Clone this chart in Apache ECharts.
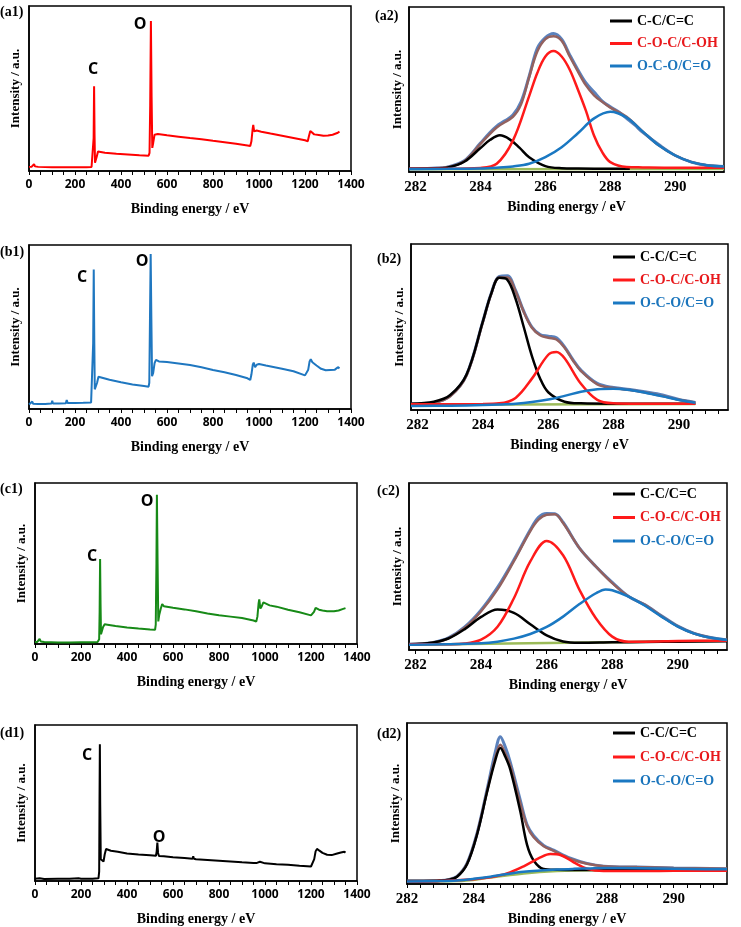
<!DOCTYPE html>
<html>
<head>
<meta charset="utf-8">
<script src="https://cdn.jsdelivr.net/npm/echarts@6/dist/echarts.min.js"></script>
<style>
html, body { margin: 0; padding: 0; background: #fff; }
#chart { width: 741px; height: 927px; }
</style>
</head>
<body>
<div id="chart"></div>
<script>
// survey spectra: [binding energy, intensity in % of plot height]
var a1Survey = [[0,2.5],[12,2.6],[18,3.8],[22,4.2],[26,2.8],[40,2.5],[100,2.3],[150,2.2],[200,2.2],[250,2.3],[272,2.4],[278,3.5],[281,20],[283,51.3],[285,22],[287,5],[291,4.5],[295,9],[300,11.8],[308,11.5],[330,11],[380,10.4],[430,10],[480,9.5],[520,9.2],[524,11],[527,40],[530,90.9],[533,45],[536,14],[540,17],[546,22],[552,23],[560,22.4],[600,21.6],[650,20.8],[700,20],[750,19.3],[800,18.3],[850,17.4],[900,16.5],[950,15.5],[962,15.2],[967,18],[972,25],[975,28],[979,24],[984,23.2],[990,24.5],[996,25],[1010,23.8],[1050,22.7],[1100,21.4],[1150,20],[1200,18.6],[1212,18],[1217,21],[1223,24.2],[1230,23],[1240,22.2],[1260,21.8],[1280,21.4],[1300,21.5],[1320,22],[1340,23],[1350,23.8]];
var b1Survey = [[0,2.8],[8,3],[14,4.5],[18,3.2],[40,3],[70,3.1],[98,3.3],[101,5],[104,3.4],[130,3.3],[160,3.5],[164,5.5],[168,3.6],[200,3.6],[236,3.8],[240,5],[244,3.9],[270,4],[276,5],[279,40],[281.5,85],[284,40],[286,12],[290,11],[296,16],[302,19.7],[310,19.5],[350,17.8],[400,16.3],[450,15],[500,14],[520,13.6],[523,16],[526,55],[529,94.5],[532,55],[535,20],[540,22],[546,28],[552,30],[565,29],[600,28.6],[650,27.8],[700,26.8],[750,25.4],[800,23.8],[850,22.4],[900,20.7],[950,18.7],[962,17.7],[967,21],[973,27],[977,28.3],[983,25.5],[990,27],[1000,27.4],[1030,26.5],[1100,24.6],[1150,23],[1200,20.5],[1208,19.7],[1214,24],[1220,29],[1225,30.3],[1232,28.5],[1250,26.5],[1270,24.5],[1290,23.6],[1310,23.8],[1330,24],[1343,25.5],[1350,24.8]];
var c1Survey = [[0,1.2],[10,1.3],[16,2.2],[20,3.2],[25,1.6],[40,1.2],[100,1],[150,1],[200,1.1],[250,1.1],[272,1.3],[279,3],[281,20],[283,52.8],[285,25],[287,6],[291,7],[296,10.5],[303,12.2],[315,12],[350,11.2],[400,10.3],[450,9.6],[500,9],[522,8.8],[525,12],[528,50],[530,92.7],[533,50],[536,14],[540,18],[547,22],[553,24.8],[560,23.5],[580,23],[600,22.5],[650,21.5],[700,20.3],[750,19],[800,17.8],[850,17],[900,16.1],[950,14.6],[962,14],[967,17],[972,25],[975,27.7],[980,22],[986,23.5],[993,25.8],[1000,25.5],[1020,24],[1050,23.2],[1100,21.3],[1150,19.7],[1200,17.8],[1206,17.6],[1213,20],[1220,22.5],[1226,22.6],[1235,21.3],[1250,20.8],[1270,20.4],[1300,20.3],[1320,20.8],[1340,21.8],[1350,22.3]];
var d1Survey = [[0,1.4],[20,1.8],[40,1.3],[100,1.5],[150,1.4],[190,1.7],[200,1.5],[250,1.5],[276,1.7],[279,6],[280.5,50],[282,87.6],[283.5,50],[286,14],[290,14],[294,13],[298,12.5],[303,17],[309,20.5],[316,20],[330,19.4],[360,18.7],[400,17.6],[450,17],[500,16.5],[526,16.2],[529,19],[532,24.7],[535,18],[539,16],[560,15.8],[600,15.2],[650,14.7],[685,14.3],[688,15.8],[691,14.3],[700,14],[750,13.5],[800,13],[850,12.5],[900,12],[950,11.6],[965,11.6],[970,12.6],[978,12.3],[985,11.6],[1000,11.3],[1050,10.8],[1100,10.4],[1150,9.8],[1200,9.3],[1208,9.8],[1214,14],[1220,19],[1226,20.6],[1235,19.6],[1250,18],[1270,16.8],[1290,16.6],[1310,17.5],[1330,18.3],[1345,18.8],[1350,18.2]];

// C1s high resolution: [binding energy, intensity in % of plot height]
var a2Base = [[281.8,1.6],[291.5,1.8]];
var a2Raw = [[281.8,2],[282.5,2.3],[283,3.1],[283.5,6.8],[284,17.5],[284.25,23],[284.5,27.8],[284.75,31],[285,34.5],[285.25,42.5],[285.5,58],[285.75,75],[286,81.5],[286.25,84],[286.5,80.5],[286.75,71],[287,62],[287.25,54],[287.5,48.5],[287.75,43],[288,39.5],[288.25,36.5],[288.5,32.5],[288.75,28.5],[289,24],[289.5,16.5],[290,10],[290.5,6],[291,4],[291.5,3.4]];
var a2Fit = [[281.8,2],[282.5,2.2],[283,3],[283.5,6.5],[284,17],[284.5,27],[285,33.5],[285.25,41],[285.5,57.5],[285.75,73],[286,80.5],[286.25,82.2],[286.5,79.5],[286.75,70],[287,61],[287.25,52.5],[287.5,46.5],[287.75,42.5],[288,39],[288.5,33.5],[289,24.5],[289.5,16],[290,10],[290.5,6],[291,4],[291.5,3.4]];
var a2CC = [[281.8,2],[282.5,2.1],[283,2.8],[283.5,6.2],[284,14.5],[284.3,19.5],[284.6,22.2],[284.9,19.8],[285.2,14.8],[285.5,9],[286,3.6],[286.5,2.3],[287,2.1],[288,2],[288.6,2]];
var a2COC = [[281.8,2],[283,2],[284,2.5],[284.5,5],[285,19],[285.5,46],[285.75,60],[286,70],[286.25,73.3],[286.5,70],[286.75,62],[287,50],[287.25,37],[287.5,22],[287.75,12],[288,6],[288.5,3],[289,2.8],[290,2.6],[291.5,2.6]];
var a2OCO = [[281.8,1.8],[283,1.9],[284,2.1],[284.5,2.6],[285,3.4],[285.5,5],[286,9],[286.5,15],[287,23.5],[287.5,32.5],[288,36.5],[288.5,33],[289,24.5],[289.5,16],[290,10],[290.5,6],[291,4],[291.5,3.4]];

var b2Base = [[282,3.2],[290.5,3.6]];
var b2Raw = [[281.8,3.6],[282.5,4.5],[283,8.5],[283.5,21.2],[284,53.5],[284.25,70],[284.5,80.5],[284.75,80.8],[285,72],[285.25,59.5],[285.5,50],[285.75,45.5],[286,44.5],[286.25,43.5],[286.5,38],[286.75,30.5],[287,24],[287.5,16],[288,13.5],[288.5,12.3],[289,10.8],[289.5,9],[290,6.3],[290.5,4.6]];
var b2Fit = [[281.8,3.6],[282.5,4.4],[283,8.3],[283.5,20.8],[284,53],[284.25,69.5],[284.5,79.8],[284.75,79.8],[285,71.5],[285.25,59],[285.5,49.5],[285.75,45],[286,43.5],[286.25,42.5],[286.5,37.5],[286.75,30],[287,23.5],[287.5,15.5],[288,13.2],[288.5,12],[289,10.4],[289.5,8.4],[290,6.2],[290.5,4.5]];
var b2CC = [[281.8,3.8],[282.5,5],[283,9],[283.5,21.4],[284,53.4],[284.25,69.8],[284.5,79.6],[284.75,78.4],[285,67],[285.25,50],[285.5,32.5],[285.75,19],[286,10.7],[286.5,5],[287,4],[288,3.8],[290.5,3.8]];
var b2COC = [[281.8,3.5],[284,3.6],[284.5,4],[285,7.3],[285.5,18.9],[286,33.3],[286.25,35],[286.5,31.2],[287,15.8],[287.5,6.1],[288,4],[288.5,3.8],[290.5,3.8]];
var b2OCO = [[281.8,2.4],[283,2.6],[284,3],[284.5,3.3],[285,3.8],[285.5,4.8],[286,6.3],[286.5,8.5],[287,11],[287.5,12.5],[288,12.8],[288.5,12],[289,10.3],[289.5,8.2],[290,6],[290.5,4.4]];

var c2Base = [[281.8,3.2],[291.5,5.5]];
var c2Raw = [[281.8,3.4],[282.5,4.4],[283,7.2],[283.5,13.8],[284,24],[284.5,37.5],[285,54],[285.5,72],[285.75,79.5],[286,81.8],[286.25,81.6],[286.5,76.5],[287,61],[287.5,50],[288,40.5],[288.5,32],[289,27],[289.5,20.5],[290,14.3],[290.5,10],[291,7.5],[291.5,6]];
var c2Fit = [[281.8,3.4],[282.5,4.3],[283,7],[283.5,13.3],[284,23.2],[284.5,36.3],[285,53.2],[285.5,71.2],[285.75,78],[286,81],[286.25,81.3],[286.5,76],[287,61],[287.5,50],[288,40],[288.5,32],[289,27],[289.5,20.3],[290,14.2],[290.5,9.9],[291,7.4],[291.5,6]];
var c2CC = [[281.8,3.5],[282.5,4.4],[283,6.9],[283.5,12.5],[284,19.8],[284.5,24.2],[285,22.2],[285.5,15.4],[286,8.8],[286.5,5.1],[287,4.3],[288,4.6],[289,4.8],[290,5],[291.5,5.2]];
var c2COC = [[281.8,3.4],[283,3.5],[283.5,3.9],[284,6.2],[284.5,13.9],[285,31],[285.5,53],[286,65.3],[286.5,56.7],[287,36],[287.5,19],[288,8],[288.5,5],[289,5],[290,5.4],[291.5,5.6]];
var c2OCO = [[281.8,3.2],[283,3.4],[284,4],[284.5,5],[285,6.8],[285.5,9.6],[286,13.8],[286.5,20],[287,27.5],[287.5,34],[287.8,36.3],[288,35.8],[288.5,32],[289,26.5],[289.5,20],[290,14],[290.5,9.8],[291,7.3],[291.5,6]];

var d2Base = [[282,1.6],[283.5,1.8],[284.5,4],[285.5,6.5],[286.5,8],[287.5,8.6],[291.6,9]];
var d2Raw = [[282,1.8],[282.5,1.8],[283,2.1],[283.25,2.7],[283.5,4.7],[283.8,12.8],[284.1,31.5],[284.4,58.5],[284.65,82],[284.8,91.5],[284.95,85],[285.1,75.5],[285.4,52],[285.6,37],[285.8,30],[286.1,24],[286.4,21],[286.9,16],[287.4,12.8],[287.9,11.1],[288.9,10.5],[290,10],[291.6,9.5]];
var d2Fit = [[282,1.8],[282.5,1.8],[283,2.1],[283.25,2.7],[283.5,4.6],[283.8,12.5],[284.1,31],[284.4,57.5],[284.65,78.5],[284.8,86.5],[284.95,81],[285.1,73.5],[285.4,50],[285.6,36],[285.8,29],[286.1,23.5],[286.4,20.6],[286.9,15.6],[287.4,12.6],[287.9,11.1],[288.9,10.5],[290,10],[291.6,9.5]];
var d2CC = [[282,1.8],[282.5,1.8],[283,2],[283.25,2.6],[283.5,4.5],[283.8,12.3],[284.1,30.6],[284.4,57],[284.65,77],[284.8,84.5],[284.95,79],[285.1,71],[285.4,45],[285.6,24.5],[285.8,14.6],[286.1,9.3],[286.5,8.8],[287,8.7],[288,8.8],[291.6,8.9]];
var d2COC = [[282,1.6],[283,1.9],[284,3],[284.5,4.2],[285,6.5],[285.5,11],[286,16.5],[286.3,18.6],[286.6,18],[287,13.5],[287.4,9.5],[287.9,8.1],[289,8],[290,8.2],[291.6,8.3]];
var d2OCO = [[282,1.5],[283,1.8],[283.5,2.2],[284,3.2],[284.5,4.5],[285,6.2],[285.5,7.6],[286,8.4],[286.5,9],[287,9.4],[287.5,9.7],[288,9.9],[289,9.8],[290,9.5],[291,9.2],[291.6,9.1]];

// tick labels
var hrLabelValues = [282, 284, 286, 288, 290];
var hrTickValues = [282,282.4,282.8,283.2,283.6,284,284.4,284.8,285.2,285.6,286,286.4,286.8,287.2,287.6,288,288.4,288.8,289.2,289.6,290,290.4,290.8,291.2];
var componentNames = ['C-C/C=C', 'C-O-C/C-OH', 'O-C-O/C=O'];

var serif = '"Liberation Serif","Times New Roman",serif';
var sans = '"Open Sans","Liberation Sans",sans-serif';

var compColors = ['#000000', '#ff1a1a', '#1a78c2'];
var legendText = ['#000000', '#e8191c', '#1b75bc'];

// layout
var grids = [
	{left: 29, top: 6, width: 322, height: 165},
	{left: 409, top: 7, width: 315, height: 165},
	{left: 29, top: 245, width: 322, height: 164},
	{left: 411, top: 244, width: 317, height: 166},
	{left: 35, top: 483, width: 322, height: 161},
	{left: 409, top: 483, width: 318, height: 167},
	{left: 35, top: 725, width: 322, height: 162},
	{left: 407, top: 723, width: 320, height: 164}
];

var xAxes = [], yAxes = [], series = [], legends = [];

function plainNumber(v) {
	return String(v);
}

function addSurvey(idx, data, color) {
	xAxes.push({
		gridIndex: idx, type: 'value', min: 0, max: 1400, interval: 200,
		axisLine: {show: true, onZero: false, lineStyle: {color: '#000', width: 1.5}},
		axisTick: {show: true, length: 4, lineStyle: {color: '#000', width: 1}},
		minorTick: {show: true, splitNumber: 4, length: 4, lineStyle: {color: '#000', width: 1}},
		splitLine: {show: false},
		axisLabel: {color: '#000', fontFamily: sans, fontWeight: 'bold', fontSize: 12, margin: 8, formatter: plainNumber},
		name: 'Binding energy / eV', nameLocation: 'middle', nameGap: 31,
		nameTextStyle: {color: '#000', fontFamily: serif, fontWeight: 'bold', fontSize: 14}
	});
	addYAxis(idx, 7);
	series.push({
		type: 'line', xAxisIndex: idx, yAxisIndex: idx, data: data,
		showSymbol: false, lineStyle: {color: color, width: 2}, itemStyle: {color: color}
	});
}

function addYAxis(idx, gap) {
	yAxes.push({
		gridIndex: idx, type: 'value', min: 0, max: 100,
		axisLine: {show: true, onZero: false, lineStyle: {color: '#000', width: 1.5}},
		axisTick: {show: false}, axisLabel: {show: false}, splitLine: {show: false},
		name: 'Intensity / a.u.', nameLocation: 'middle', nameGap: gap,
		nameTextStyle: {color: '#000', fontFamily: serif, fontWeight: 'bold', fontSize: 13}
	});
}

function addHR(idx, min, max, base, raw, fit, cc, coc, oco, legendPos) {
	xAxes.push({
		gridIndex: idx, type: 'value', min: min, max: max,
		axisLine: {show: true, onZero: false, lineStyle: {color: '#000', width: 1.5}},
		axisTick: {show: true, length: 4, customValues: hrTickValues, lineStyle: {color: '#000', width: 1}},
		splitLine: {show: false},
		axisLabel: {color: '#000', fontFamily: serif, fontWeight: 'bold', fontSize: 15, margin: 8, customValues: hrLabelValues},
		name: 'Binding energy / eV', nameLocation: 'middle', nameGap: 28,
		nameTextStyle: {color: '#000', fontFamily: serif, fontWeight: 'bold', fontSize: 14}
	});
	addYAxis(idx, 5);
	var common = {type: 'line', xAxisIndex: idx, yAxisIndex: idx, showSymbol: false, smooth: 0.35};
	series.push(Object.assign({name: 'baseline', data: base, lineStyle: {color: '#9bbb59', width: 2.5}}, common));
	series.push(Object.assign({name: 'raw', data: raw, lineStyle: {color: '#5b82bd', width: 3}}, common));
	series.push(Object.assign({name: 'fit', data: fit, lineStyle: {color: '#93615f', width: 2.5}}, common));
	[cc, coc, oco].forEach(function(d, k) {
		series.push(Object.assign({
			name: componentNames[k], data: d,
			lineStyle: {color: compColors[k], width: 2.5}, itemStyle: {color: compColors[k]}
		}, common));
	});
	legends.push({
		left: legendPos[0], top: legendPos[1], orient: 'vertical', padding: 0,
		itemWidth: 22, itemHeight: 3, itemGap: legendPos[2], icon: 'rect', selectedMode: false,
		textStyle: {fontFamily: serif, fontWeight: 'bold', fontSize: 14, lineHeight: 16},
		data: componentNames.map(function(n, k) {
			return {name: n, textStyle: {color: legendText[k]}};
		})
	});
}

addSurvey(0, a1Survey, '#ff0000');
addHR(1, 281.8, 291.5, a2Base, a2Raw, a2Fit, a2CC, a2COC, a2OCO, [610, 13, 6.5]);
addSurvey(2, b1Survey, '#1f77c0');
addHR(3, 281.8, 291.5, b2Base, b2Raw, b2Fit, b2CC, b2COC, b2OCO, [613, 249, 7]);
addSurvey(4, c1Survey, '#178a17');
addHR(5, 281.8, 291.5, c2Base, c2Raw, c2Fit, c2CC, c2COC, c2OCO, [613, 486, 7.5]);
addSurvey(6, d1Survey, '#000000');
addHR(7, 282, 291.6, d2Base, d2Raw, d2Fit, d2CC, d2COC, d2OCO, [613, 725, 8]);

var panelLabels = [
	['(a1)', 0, 12], ['(a2)', 375, 16], ['(b1)', 0, 252], ['(b2)', 377, 259],
	['(c1)', 0, 489], ['(c2)', 377, 491], ['(d1)', 0, 733], ['(d2)', 377, 734]
];
var peakLabels = [
	['C', 93, 69], ['O', 140, 24], ['C', 82, 277], ['O', 142, 261],
	['C', 92, 556], ['O', 147, 501], ['C', 87, 755], ['O', 159, 837]
];

var graphics = [];
panelLabels.forEach(function(p) {
	graphics.push({type: 'text', x: p[1], y: p[2], style: {
		text: p[0], align: 'left', verticalAlign: 'middle',
		font: 'bold 14px ' + serif, fill: '#000'}});
});
peakLabels.forEach(function(p) {
	graphics.push({type: 'text', x: p[1], y: p[2], style: {
		text: p[0], align: 'center', verticalAlign: 'middle',
		font: 'bold 16px ' + sans, fill: '#000'}});
});

var chart = echarts.init(document.getElementById('chart'));
chart.setOption({
	animation: false,
	backgroundColor: '#fff',
	grid: grids.map(function(g) {
		return Object.assign({show: true, borderColor: '#000', borderWidth: 1.5, containLabel: false}, g);
	}),
	xAxis: xAxes,
	yAxis: yAxes,
	legend: legends,
	series: series,
	graphic: graphics
});
</script>
</body>
</html>
